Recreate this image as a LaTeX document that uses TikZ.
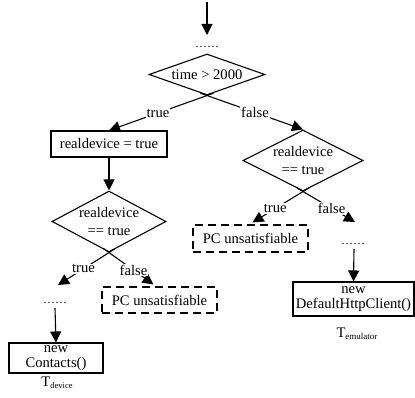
\documentclass[tikz,border=0pt]{standalone}
\usepackage{fontspec}
\setmainfont{Liberation Serif}
\usetikzlibrary{shapes.geometric,arrows.meta,calc}
\begin{document}
\begin{tikzpicture}[x=1pt,y=-1pt,
  every node/.style={font=\fontsize{14.6}{15}\selectfont},
  arr/.style={line width=1.1pt,-{Triangle[length=11pt,width=11pt]}},
  box/.style={draw,line width=1.1pt,inner sep=0pt,align=center},
  pcbox/.style={draw,line width=1.1pt,dash pattern=on 8pt off 5pt,inner sep=0pt},
  dia/.style={draw,diamond,line width=1.1pt,inner sep=0pt},
  lab/.style={fill=white,inner sep=1pt},
  dotsnode/.style={font=\fontsize{12}{12}\selectfont,inner sep=0pt},
  sub/.style={inner sep=0pt}
]
\useasboundingbox (0,0) rectangle (415,398);

% top
\coordinate (start) at (207,2);
\node[dotsnode] (dots1) at (207,47) {……};
\draw[arr] (start) -- ($(dots1)+(0,-12)$);

% diamond 1
\node[dia,minimum width=116pt,minimum height=41pt] (d1) at (207,74.5) {};
\node at (d1.center) {time > 2000};

% left branch
\node[box,minimum width=116pt,minimum height=26pt] (b1) at (109,144) {realdevice = true};
\draw[arr,shorten <=-7pt] (d1.south) -- node[lab,pos=.5]{true} (b1.north);

\node[dia,minimum width=114pt,minimum height=61pt] (d2) at (109,221.5) {};
\node[align=center,font=\fontsize{14.6}{18.5}\selectfont] at (d2.center) {realdevice\\== true};
\draw[arr] (b1.south) -- (d2.north);

\node[dotsnode] (dots2) at (55,303) {……};
\node[pcbox,minimum width=115pt,minimum height=26pt] (pc1) at (159.5,300) {PC unsatisfiable};
\draw[arr,shorten <=-7pt] (d2.south) -- node[lab,pos=.5]{true} ($(dots2)+(3,-18)$);
\draw[arr,shorten <=-7pt] (d2.south) -- node[lab,pos=.55]{false} ($(pc1.north)+(-6,-2)$);

\node[box,minimum width=94pt,minimum height=30pt] (box2) at (56,358) {new\\Contacts()};
\draw[arr] ($(dots2)+(0,5)$) -- (box2.north);
\node[sub] (tdev) at (57,383) {T\raisebox{-0.35ex}{\fontsize{8.5}{9}\selectfont device}};

% right branch
\node[dia,minimum width=120pt,minimum height=61pt] (d3) at (303,160.5) {};
\node[align=center,font=\fontsize{14.6}{18.5}\selectfont] at (d3.center) {realdevice\\== true};
\draw[arr,shorten <=-7pt] (d1.south) -- node[lab,pos=.5]{false} (d3.north);

\node[pcbox,minimum width=115pt,minimum height=27pt] (pc2) at (250.5,238.5) {PC unsatisfiable};
\node[dotsnode] (dots3) at (353,244) {……};
\draw[arr,shorten <=-7pt] (d3.south) -- node[lab,pos=.55]{true} ($(pc2.north)+(2,-2)$);
\draw[arr,shorten <=-7pt] (d3.south) -- node[lab,pos=.55]{false} ($(dots3)+(2,-22)$);

\node[box,minimum width=121pt,minimum height=34pt] (box3) at (353.5,299) {new\\DefaultHttpClient()};
\draw[arr] ($(dots3)+(1,5)$) -- (box3.north);
\node[sub] (temu) at (357,334) {T\raisebox{-0.35ex}{\fontsize{9}{9}\selectfont emulator}};
\end{tikzpicture}
\end{document}
